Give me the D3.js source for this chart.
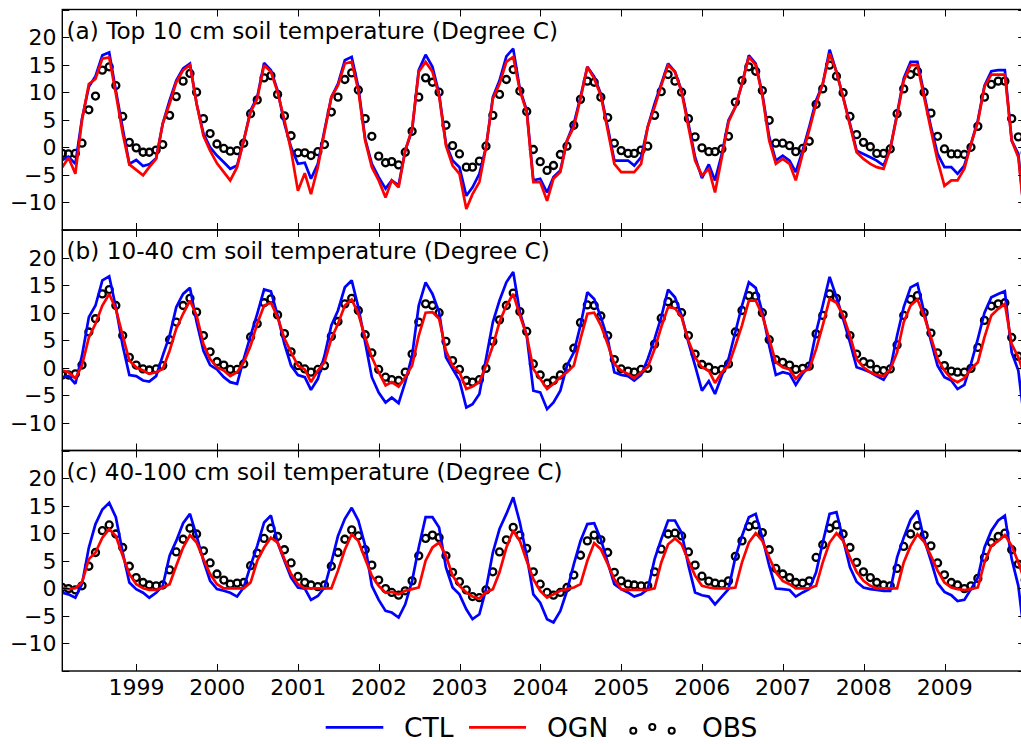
<!DOCTYPE html>
<html><head><meta charset="utf-8">
<script src="https://cdn.jsdelivr.net/npm/d3@7"></script>
<style>
body{margin:0;background:#fff;}
svg{display:block;font-family:"DejaVu Sans",sans-serif;}
</style></head>
<body><svg id="chart" width="1021" height="744"></svg>
<script>
// ---------------- data ----------------
const startYear = 1998;          // monthly series, Jan 1998 .. Dec 2009
const nMonths = 144;
const yearTicks = [1999,2000,2001,2002,2003,2004,2005,2006,2007,2008,2009];
const yTickValues = [-10,-5,0,5,10,15,20];
const yDomain = [-15,25];
const panelTitles = [
  "(a) Top 10 cm soil temperature (Degree C)",
  "(b) 10-40 cm soil temperature (Degree C)",
  "(c) 40-100 cm soil temperature (Degree C)"
];
const seriesNames = ["CTL","OGN","OBS"];

// (a) top 10 cm
const obsA = [-1.1,-1.2,-1.1,0.75,6.8,9.3,14.0,14.6,11.2,5.6,0.9,-0.1,
 -0.9,-0.9,-0.5,0.5,5.8,9.2,12.0,13.4,10.0,5.2,2.5,0.6,
 -0.2,-0.7,-0.6,0.75,6.1,8.6,12.6,13.0,9.6,5.7,2.1,-1.0,
 -1.0,-1.5,-0.8,0.5,6.4,9.1,12.3,13.5,10.4,5.2,2.0,-1.6,
 -2.8,-2.6,-3.2,-0.9,2.9,9.1,12.6,11.8,10.0,4.0,0.3,-1.2,
 -3.6,-3.6,-2.5,0.2,5.8,9.6,12.3,14.1,10.2,6.5,-0.4,-2.6,
 -4.2,-3.3,-1.3,0.2,4.0,8.7,12.0,11.8,9.1,5.4,0.75,-0.6,
 -1.1,-1.1,-0.5,0.2,5.8,10.1,13.2,12.0,10.0,5.2,1.9,-0.1,
 -0.8,-0.8,-0.3,2.0,8.2,12.1,14.6,13.8,10.3,4.9,0.75,0.75,
 0.3,-0.8,-0.2,1.1,7.8,10.6,14.9,12.9,9.9,5.6,2.3,0.9,
 0.1,-1.1,-1.1,-0.3,6.1,10.6,13.2,13.8,10.0,6.2,2.0,-0.3,
 -1.2,-1.2,-1.3,0.0,3.8,9.1,11.4,12.0,12.0,5.2,1.9,-1.0];
const ctlA = [-2.3,-1.7,-3.0,5.2,11.0,12.9,16.7,17.2,10.3,3.4,-3.0,-2.3,
 -3.4,-3.1,-2.0,4.3,8.5,12.1,14.3,15.2,7.9,2.5,0.0,-1.5,
 -2.7,-3.9,-3.3,1.2,6.7,9.1,15.3,14.0,10.3,4.3,0.0,-3.0,
 -2.8,-5.7,-3.0,3.1,9.1,11.5,15.8,16.4,10.9,1.5,-3.0,-5.4,
 -7.5,-6.0,-6.9,-0.6,3.1,14.0,16.8,14.6,9.7,0.6,-2.4,-3.6,
 -8.8,-7.25,-4.8,0.0,9.1,12.1,16.5,17.9,10.6,6.7,-6.0,-5.7,
 -8.2,-5.4,-4.2,1.2,4.3,9.1,14.6,12.8,9.7,3.7,-2.4,-2.4,
 -2.4,-3.3,-1.8,3.7,7.9,11.5,15.2,13.7,10.3,4.3,-1.8,-5.6,
 -3.1,-6.0,-1.2,4.9,7.3,11.5,16.7,15.2,9.7,1.9,-2.4,-1.5,
 -2.4,-4.5,-0.6,3.7,8.5,11.5,17.7,13.7,9.1,4.3,-0.6,-1.2,
 -1.8,-2.4,-3.3,-0.3,6.1,12.5,15.5,15.5,9.7,3.7,-1.2,-3.6,
 -3.6,-4.8,-3.3,0.6,4.9,11.2,13.8,14.0,14.0,1.2,-1.2,-14.0];
const ognA = [-3.6,-1.9,-4.8,4.9,11.5,12.4,16.1,16.3,9.7,2.5,-3.1,-4.1,
 -5.1,-3.6,-2.1,4.3,7.9,11.8,14.0,14.9,7.9,2.1,-0.6,-2.9,
 -4.5,-6.0,-3.6,1.2,6.4,8.8,14.9,13.7,10.0,4.9,-0.6,-7.9,
 -4.7,-8.5,-3.6,2.8,9.1,11.2,15.2,15.5,10.3,1.2,-3.6,-6.0,
 -9.1,-6.0,-7.25,-0.6,3.4,13.7,15.5,13.7,9.4,0.3,-3.3,-4.8,
 -11.2,-8.5,-6.3,0.0,8.8,11.5,15.5,16.4,10.3,6.4,-6.3,-6.3,
 -9.7,-5.7,-4.5,1.2,3.7,8.8,14.6,12.45,9.4,3.1,-3.0,-4.5,
 -4.5,-4.5,-3.0,3.7,7.3,11.2,14.9,13.7,10.0,3.7,-2.4,-5.1,
 -3.9,-8.2,-1.8,4.6,7.3,11.5,16.4,14.9,9.4,1.2,-3.0,-2.1,
 -3.0,-6.0,-1.2,3.1,7.9,11.5,17.0,13.7,9.1,4.0,-0.9,-2.1,
 -3.0,-3.6,-3.9,-0.3,5.8,12.1,14.9,14.9,9.1,3.1,-2.4,-7.0,
 -6.0,-6.0,-3.9,0.6,4.6,11.0,13.2,13.2,13.2,1.2,-1.8,-14.0];

// (b) 10-40 cm
const obsB = [-1.3,-1.3,-1.1,0.5,6.5,8.9,13.4,14.2,11.3,5.85,1.9,0.5,
 -0.2,-0.4,-0.2,0.4,5.1,8.3,11.3,12.6,10.1,5.85,2.9,1.1,
 0.5,-0.3,-0.3,0.7,5.6,8.0,11.8,12.5,9.6,6.2,2.9,0.4,
 -0.2,-0.8,-0.3,0.4,5.7,8.4,11.6,12.6,10.4,6.0,2.7,-0.3,
 -1.7,-2.15,-2.3,-0.8,2.5,8.3,11.6,11.3,10.0,4.8,1.3,-0.3,
 -2.3,-2.6,-2.15,-0.1,4.8,8.7,11.3,13.55,10.2,6.6,0.7,-1.3,
 -2.8,-2.3,-1.3,0.1,3.55,8.2,11.4,11.3,9.4,5.85,1.5,-0.2,
 -0.6,-0.8,-0.3,-0.1,4.3,9.0,12.0,11.4,10.0,5.85,2.5,0.6,
 0.1,-0.5,-0.3,0.7,6.5,10.4,13.1,13.0,10.0,5.1,1.5,1.0,
 0.5,-0.3,-0.1,0.3,6.15,9.5,13.4,12.6,9.6,5.85,2.5,1.1,
 0.7,-0.3,-0.5,-0.2,4.15,9.5,12.4,13.1,10.0,6.3,2.7,0.4,
 -0.6,-0.8,-0.8,-0.1,3.7,8.6,11.2,11.6,11.8,5.5,2.1,0.0];
const ctlB = [-1.7,-1.5,-2.9,2.2,9.2,11.3,15.85,16.6,11.0,4.0,-1.3,-1.5,
 -2.3,-2.5,-1.5,2.2,5.85,11.0,13.4,14.5,8.3,3.1,0.5,-0.3,
 -1.7,-2.6,-2.9,1.6,5.85,9.8,14.2,13.85,9.5,4.3,0.4,-1.3,
 -1.7,-4.0,-2.0,2.2,7.7,10.4,14.6,15.85,11.0,4.6,-1.7,-4.5,
 -6.3,-5.4,-6.4,-2.6,2.2,11.3,15.5,13.4,10.1,1.9,-0.2,-2.3,
 -7.2,-6.6,-4.75,1.6,8.3,12.2,15.5,17.4,10.1,5.85,-4.15,-4.45,
 -7.5,-6.3,-4.15,0.4,2.8,7.7,13.7,12.5,9.2,5.25,-0.8,-1.3,
 -1.5,-2.3,-1.3,1.6,5.25,9.2,14.2,12.8,9.5,4.6,0.4,-4.15,
 -2.4,-4.75,-1.4,1.6,6.5,11.3,15.5,14.5,10.1,4.0,-1.3,-0.8,
 -1.1,-3.1,-1.1,0.4,6.5,11.3,16.5,12.8,8.9,4.6,0.1,-0.3,
 -0.8,-1.5,-2.15,-0.2,5.85,11.0,14.6,15.25,10.1,4.9,0.4,-1.7,
 -2.3,-3.85,-3.1,0.7,5.25,10.0,12.8,13.4,13.9,2.8,-0.5,-11.0];
const ognB = [-0.5,-0.8,-1.9,0.4,5.5,8.0,11.3,13.4,10.7,5.85,1.3,0.1,
 -0.5,-1.1,-0.8,-0.2,3.1,7.1,9.8,12.2,9.5,4.3,1.6,0.1,
 -0.5,-1.5,-0.8,1.0,4.0,8.0,11.3,11.8,9.2,5.3,2.8,0.4,
 -0.3,-2.6,-0.5,1.0,5.3,8.0,11.3,12.4,9.8,5.5,1.9,-0.8,
 -3.2,-2.6,-3.4,-1.7,0.4,5.85,10.0,10.1,8.9,3.1,0.4,-0.8,
 -3.85,-3.4,-2.6,0.4,4.0,8.3,11.3,13.4,9.5,5.85,-0.2,-2.0,
 -3.85,-2.9,-1.7,-0.8,0.4,5.25,9.8,10.0,7.7,4.3,0.7,-0.5,
 -1.1,-1.9,-0.8,0.1,3.4,7.4,11.0,10.8,9.2,4.9,1.9,0.1,
 -0.5,-2.75,-0.8,0.4,4.0,7.7,12.2,12.2,9.5,5.25,1.0,0.1,
 -0.3,-2.0,-0.7,-0.2,3.4,7.7,12.5,11.8,9.5,5.85,1.6,0.1,
 -0.8,-1.3,-1.5,-0.3,2.8,8.3,11.3,12.4,9.4,5.55,1.6,-0.5,
 -2.0,-2.6,-1.9,-0.2,1.0,5.55,9.5,10.7,11.6,4.3,1.9,-2.0];

// (c) 40-100 cm
const obsC = [0.15,-0.05,-0.3,0.45,4.0,6.5,10.45,11.5,9.85,7.4,4.0,1.95,
 1.05,0.6,0.45,0.6,3.35,6.6,8.9,10.9,9.85,6.8,4.6,2.6,
 1.5,0.75,0.95,1.05,4.1,6.4,9.05,10.9,9.4,7.0,4.6,2.15,
 1.05,0.6,0.3,0.6,4.0,6.5,8.9,10.6,9.5,7.0,4.2,1.5,
 -0.05,-0.75,-1.25,-0.45,1.35,5.9,9.05,9.65,9.2,5.9,2.9,1.2,
 -0.3,-1.5,-1.7,-0.3,3.0,6.6,8.8,11.05,9.65,7.25,3.0,0.75,
 -0.75,-1.25,-0.75,0.15,2.4,6.0,8.6,9.65,8.8,6.5,2.9,1.35,
 0.75,0.6,0.45,0.45,3.0,7.1,9.85,10.0,9.5,6.6,4.2,2.2,
 1.3,0.95,0.75,1.35,5.8,8.6,11.2,11.5,10.1,7.0,3.6,2.6,
 1.95,1.05,0.95,1.35,5.6,7.9,10.9,11.5,9.85,7.4,4.7,3.0,
 1.95,1.05,0.6,0.45,3.6,7.6,9.85,11.35,9.65,7.7,4.6,2.45,
 1.05,0.6,-0.05,0.45,1.8,5.6,8.3,9.4,10.0,7.0,4.4,1.5];
const ctlC = [-0.8,-1.1,-1.7,0.75,7.4,11.65,14.3,15.5,12.9,6.5,1.05,-0.15,
 -0.8,-1.7,-0.8,0.45,5.9,8.6,11.8,13.5,9.5,5.0,1.35,-0.15,
 -0.45,-0.8,-1.5,0.15,4.1,7.7,11.95,13.2,8.3,5.0,1.95,0.15,
 -0.05,-2.1,-1.4,0.15,4.7,9.5,12.6,14.6,12.3,7.7,0.45,-2.1,
 -4.1,-4.4,-5.3,-2.9,1.35,7.4,12.9,12.9,11.05,3.8,0.15,-1.1,
 -3.8,-5.6,-4.7,-0.15,6.5,10.75,13.5,16.5,11.95,5.9,-1.1,-2.6,
 -5.6,-6.2,-4.1,-0.45,4.4,8.6,11.65,11.8,8.9,4.7,0.75,-0.15,
 -0.75,-1.5,-1.1,-0.15,5.3,8.9,12.3,12.3,10.1,4.1,-0.75,-1.25,
 -1.5,-2.9,-1.5,-0.15,5.6,9.5,12.9,13.5,9.2,4.1,-0.05,-0.15,
 -0.3,-1.5,-0.75,-0.15,2.9,8.3,13.5,13.8,8.9,3.8,1.2,0.15,
 -0.15,-0.3,-0.45,-0.45,5.6,9.2,12.45,14.1,8.9,5.0,0.95,-0.65,
 -1.25,-2.3,-2.1,-0.15,1.95,7.4,10.45,12.3,13.2,5.3,0.45,-10.0];
const ognC = [0.15,-0.15,0,1.05,5.3,6.5,9.2,10.75,9.5,5.9,2.6,0.75,
 0,-0.3,-0.3,0.15,0.75,4.1,7.4,9.65,8.3,5.3,2.6,0.75,
 0,0,0,0,1.05,5.0,7.4,9.2,8.3,5.3,2.6,0.75,
 0,0,0,0,0,3.2,7.0,9.8,8.6,5.3,2.3,0.45,
 -0.8,-0.65,-1.1,-0.45,-0.15,0.15,5.0,7.4,8.3,5.9,2.3,0.45,
 -0.75,-1.5,-1.85,-0.75,-0.15,2.9,7.4,10.45,8.6,5.0,1.65,-0.45,
 -1.7,-1.1,-0.45,-0.15,0.15,0.75,5.0,8.2,7.1,4.4,1.65,-0.15,
 -0.3,-0.3,-0.3,-0.3,0,4.7,8.0,9.05,8.0,5.0,2.3,0.45,
 0.15,0,0,0,0.15,4.7,8.3,10.0,8.6,5.6,2.9,1.35,
 0.75,0,0,0,0.45,4.7,8.3,10.0,8.6,5.6,3.0,1.35,
 0.45,0,0,0,0,4.7,7.7,9.8,8.45,5.9,3.2,1.05,
 0.15,-0.15,-0.3,-0.15,0.15,4.7,7.7,8.6,9.65,7.7,4.7,1.0];

const panels = [
  {title: panelTitles[0], ctl: ctlA, ogn: ognA, obs: obsA},
  {title: panelTitles[1], ctl: ctlB, ogn: ognB, obs: obsB},
  {title: panelTitles[2], ctl: ctlC, ogn: ognC, obs: obsC}
];

// ---------------- layout ----------------
const svg = d3.select("#chart");
const W = 1021;
const left = 62.3, right = 1025.2;
const top0 = 9.5, panelH = 220.5;
const months = d3.range(nMonths).map(k => new Date(startYear, k + 1, 0)); // month-end dates
const x = d3.scaleTime().domain([months[0], months[nMonths-1]]).range([left, right]);
const fmtNum = v => (v < 0 ? "\u2212" + Math.abs(v) : String(v));

svg.append("rect").attr("width", W).attr("height", 744).attr("fill", "#fff");

panels.forEach((p, i) => {
  const t = top0 + i * panelH, b = t + panelH;
  const y = d3.scaleLinear().domain(yDomain).range([b, t]);
  const g = svg.append("g");
  const clipId = "clip" + i;
  svg.append("clipPath").attr("id", clipId).append("rect")
    .attr("x", left).attr("y", t).attr("width", right - left).attr("height", panelH);

  const plot = g.append("g").attr("clip-path", `url(#${clipId})`);
  // obs (open circles)
  plot.append("g").selectAll("circle").data(p.obs.map((v, k) => [months[k], v]))
    .join("circle")
    .attr("cx", d => x(d[0])).attr("cy", d => y(d[1])).attr("r", 3.5)
    .attr("fill", "none").attr("stroke", "#000").attr("stroke-width", 2.3);
  const line = d3.line().x(d => x(d[0])).y(d => y(d[1]));
  plot.append("path").datum(p.ctl.map((v, k) => [months[k], v]))
    .attr("d", line).attr("fill", "none").attr("stroke", "#0000ff")
    .attr("stroke-width", 2.7).attr("stroke-linejoin", "miter").attr("stroke-miterlimit", 2);
  plot.append("path").datum(p.ogn.map((v, k) => [months[k], v]))
    .attr("d", line).attr("fill", "none").attr("stroke", "#ff0000")
    .attr("stroke-width", 2.7).attr("stroke-linejoin", "miter").attr("stroke-miterlimit", 2);

  // ticks (inward, both sides)
  const tickYears = yearTicks.map(yr => new Date(yr, 0, 1));
  const tl = 7;
  const tg = g.append("g").attr("stroke", "#000").attr("stroke-width", 1);
  tickYears.forEach(d => {
    const xx = Math.round(x(d)) + 0.5;
    tg.append("line").attr("x1", xx).attr("x2", xx).attr("y1", b).attr("y2", b - tl);
    tg.append("line").attr("x1", xx).attr("x2", xx).attr("y1", t).attr("y2", t + tl);
  });
  yTickValues.concat([25, -15]).forEach(v => {
    const yy = Math.round(y(v)) + 0.5;
    tg.append("line").attr("x1", left).attr("x2", left + tl).attr("y1", yy).attr("y2", yy);
    tg.append("line").attr("x1", right).attr("x2", right - tl).attr("y1", yy).attr("y2", yy);
  });

  // frame
  g.append("rect").attr("x", left).attr("y", t).attr("width", right - left).attr("height", panelH)
    .attr("fill", "none").attr("stroke", "#000").attr("stroke-width", 1.4);

  // y tick labels
  g.append("g").selectAll("text").data(yTickValues).join("text")
    .attr("x", 56.5).attr("y", v => y(v) + 8)
    .attr("text-anchor", "end").attr("font-size", 22).attr("fill", "#000")
    .text(fmtNum);

  // panel title
  g.append("text").attr("x", 66.5).attr("y", t + 29)
    .attr("font-size", 23.2).attr("fill", "#000").text(p.title);

  // x tick labels on bottom panel only
  if (i === panels.length - 1) {
    g.append("g").selectAll("text").data(tickYears).join("text")
      .attr("x", d => x(d)).attr("y", b + 24)
      .attr("text-anchor", "middle").attr("font-size", 22).attr("fill", "#000")
      .text(d => d.getFullYear());
  }
});

// ---------------- legend ----------------
const lg = svg.append("g").attr("font-size", 26.5).attr("fill", "#000");
const legY = 727.3;
lg.append("line").attr("x1", 325.7).attr("x2", 383.3).attr("y1", legY).attr("y2", legY)
  .attr("stroke", "#0000ff").attr("stroke-width", 2.7);
lg.append("text").attr("x", 404).attr("y", 736.5).text(seriesNames[0]);
lg.append("line").attr("x1", 469).attr("x2", 526).attr("y1", legY).attr("y2", legY)
  .attr("stroke", "#ff0000").attr("stroke-width", 2.7);
lg.append("text").attr("x", 547).attr("y", 736.5).text(seriesNames[1]);
[[633.3, 730.7], [652.3, 727], [671.7, 730.7]].forEach(([cx, cy]) => {
  lg.append("circle").attr("cx", cx).attr("cy", cy).attr("r", 3)
    .attr("fill", "none").attr("stroke", "#000").attr("stroke-width", 2.1);
});
lg.append("text").attr("x", 702).attr("y", 736.5).text(seriesNames[2]);
</script>
</body></html>
